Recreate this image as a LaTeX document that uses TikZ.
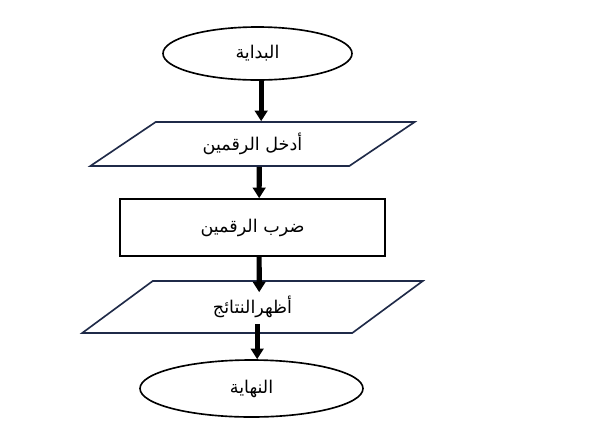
\documentclass[tikz,border=0pt]{standalone}
\usepackage{fontspec}
\usepackage{tikz}
\usetikzlibrary{shapes.geometric,arrows.meta}
\TeXXeTstate=1
\newfontfamily\arabicfont[Script=Arabic]{DejaVu Sans}
\definecolor{navyline}{HTML}{1F2A48}

\begin{document}
\begin{tikzpicture}[x=0.3mm, y=-0.3mm,
                line width=1.4pt, inner sep=0pt,
                font=\arabicfont\fontsize{15}{17}\selectfont,
                term node/.style={ellipse,draw},
                io node/.style={trapezium,draw=navyline,trapezium stretches=true},
                proc node/.style={rectangle,draw},
                flow/.style={line width=4.4pt,-{Triangle[width=3.8mm,length=3.2mm]}}]

            \fill[white] (0,0) rectangle (613,426);
            \useasboundingbox (0,0) rectangle (613,426);

            % Nodes
            \node[term node, minimum width=56.7mm, minimum height=15.9mm] (1) at (257.5,53.5) {\beginR البداية\endR};
            \node[io node, trapezium left angle=33, trapezium right angle=147,
                  minimum width=97.5mm, minimum height=13.2mm] (2) at (252.5,144) {\beginR أدخل الرقمين\endR};
            \node[proc node, minimum width=79.5mm, minimum height=17.1mm] (3) at (252.5,227.5) {\beginR ضرب الرقمين\endR};
            \node[io node, trapezium left angle=38, trapezium right angle=142,
                  minimum width=102.3mm, minimum height=15.6mm] (4) at (252.5,307) {\beginR أظهرالنتائج\endR};
            \node[term node, minimum width=66.9mm, minimum height=17.1mm] (5) at (251.5,388.5) {\beginR النهاية\endR};

            % Edges
            \path[every edge/.style={draw,flow}]
            ([xshift=1.1mm]1.south) edge ([xshift=1.1mm]1.south |- 2.north)
            ([xshift=2mm]2.south) edge ([xshift=2mm]3.north)
            ([xshift=2mm]3.south) edge[shorten >=-3.6mm] ([xshift=2mm]4.north)
            ([xshift=1.4mm]4.south) edge[shorten <=-3mm] ([xshift=1.4mm]4.south |- 5.north);

        \end{tikzpicture}
\end{document}
